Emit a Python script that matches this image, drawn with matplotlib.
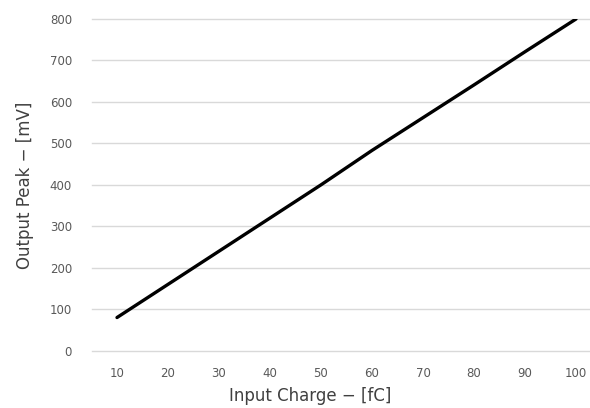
import matplotlib
matplotlib.use("Agg")
import matplotlib.pyplot as plt

# Input charge (fC) vs output peak (mV)
charge = [10, 20, 30, 40, 50, 60, 70, 80, 90, 100]
peak = [80, 160, 240, 320, 400, 483, 562, 641, 721, 800]
y_ticks = [0, 100, 200, 300, 400, 500, 600, 700, 800]

plt.rcParams.update({'font.family': 'DejaVu Sans'})

fig = plt.figure(figsize=(5.9, 4.08), dpi=100)
# plot area runs slightly past the right edge, as in the reference
ax = fig.add_axes([91.5 / 590, 57.3 / 408, 510 / 590, 331.7 / 408])

ax.plot(charge, peak, color='black', lw=2.4, solid_capstyle='round', zorder=3)

ax.set_xlim(5, 105)
ax.set_ylim(0, 800)
ax.set_xticks(charge)
ax.set_yticks(y_ticks)
ax.grid(axis='y', color='#d9d9d9', lw=1)
for gl in ax.get_ygridlines():
    gl.set_clip_on(False)
ax.set_axisbelow(True)
for s in ax.spines.values():
    s.set_visible(False)
ax.tick_params(length=0, labelsize=8.5, colors='#595959')
ax.tick_params(axis='x', pad=12)
ax.tick_params(axis='y', pad=14)

fig.text(310 / 590, 1 - 396 / 408, 'Input Charge \u2212 [fC]', ha='center', va='center',
         fontsize=12, color='#404040')
fig.text(25 / 590, 1 - 185 / 408, 'Output Peak \u2212 [mV]', ha='center', va='center',
         fontsize=12, color='#404040', rotation=90)

fig.savefig('out.png', dpi=100)
